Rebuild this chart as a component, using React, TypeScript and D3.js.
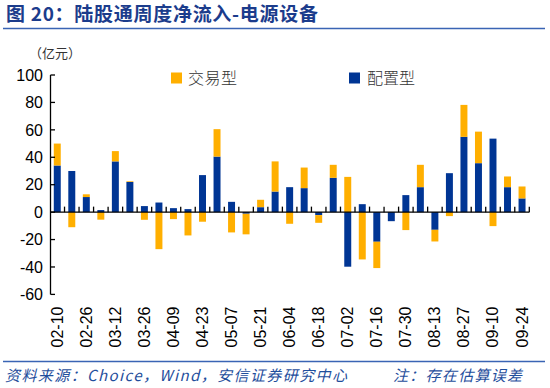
import React from "react";
import * as d3 from "d3";

const dates = [
  "02-10", "02-19", "02-26", "03-05", "03-12", "03-19", "03-26", "04-02", "04-09", "04-16",
  "04-23", "04-30", "05-07", "05-14", "05-21", "05-28", "06-04", "06-11", "06-18", "06-25",
  "07-02", "07-09", "07-16", "07-23", "07-30", "08-06", "08-13", "08-20", "08-27", "09-03",
  "09-10", "09-17", "09-24",
];
const allocation = [
  34, 30, 11, 1.5, 37, 22, 4.4, 7, 2.9, 2.2, 27, 40.5, 7.5, -1.2, 3.6, 15, 18.2, 17.5, -2.2, 25,
  -39.8, 5.8, -21.6, -6.6, 12.4, 18.2, -12.9, 28.4, 54.9, 35.7, 53.6, 18.2, 10,
];
const trading = [
  16, -11, 2, -5.5, 7.5, 0.5, -5.6, -27, -5.1, -17, -7, 20, -14.8, -15, 5.4, 22, -8.5, 15, -5.6, 9.5,
  25.7, -34.5, -19.2, 0, -13.1, 16.3, -8.5, -2.9, 23.3, 23, -10.2, 7.8, 8.7,
];
const yTicks = [100, 80, 60, 40, 20, 0, -20, -40, -60];
const seriesNames = ["交易型", "配置型"];

const BLUE = "#003594";
const ORANGE = "#FFAF00";

export default function App() {
  const x = d3.scaleBand<string>().domain(dates).range([50, 529.3]).paddingInner(0.52).paddingOuter(0.26);
  const y = d3.scaleLinear().domain([-60, 100]).range([294.4, 75]);
  const rows = dates.map((d, i) => ({ date: d, alloc: allocation[i], trade: trading[i] }));
  const stack = d3.stack<any>().keys(["alloc", "trade"]).offset(d3.stackOffsetDiverging);
  const layers = stack(rows);
  const colors: Record<string, string> = { alloc: BLUE, trade: ORANGE };
  const axisX = 50.5;
  const y0 = y(0);
  const step = x.step();
  const bandStart = x.range()[0];

  return (
    <svg width={550} height={388} style={{ position: "absolute", left: 0, top: 0, background: "#fff" }}
      fontFamily="'Liberation Sans', Arial, sans-serif">
      <text x={6} y={21} fontSize={19} fontWeight="bold" fill="#1B3C8C" textLength={312}
        fontFamily="'Noto Sans CJK SC', 'Liberation Sans', sans-serif">图 20：陆股通周度净流入-电源设备</text>
      <line x1={3} x2={545} y1={28.5} y2={28.5} stroke="#3A64B4" strokeWidth={1.5} />

      <text x={29} y={58} fontSize={13} fill="#333"
        fontFamily="'Noto Sans CJK SC', sans-serif">（亿元）</text>

      {layers.map((layer) =>
        layer.map((seg, i) => {
          const top = y(Math.max(seg[0], seg[1]));
          const bot = y(Math.min(seg[0], seg[1]));
          if (bot - top <= 0) return null;
          return (
            <rect key={layer.key + i} x={x(dates[i])} y={top} width={x.bandwidth()} height={bot - top}
              fill={colors[layer.key]} />
          );
        })
      )}

      {/* y axis */}
      <line x1={axisX} x2={axisX} y1={y(100)} y2={y(-60)} stroke="#000" strokeWidth={1.3} />
      {yTicks.map((t) => (
        <g key={t}>
          <line x1={axisX} x2={axisX + 4.5} y1={y(t)} y2={y(t)} stroke="#000" strokeWidth={1.3} />
          <text x={43} y={y(t)} dy="0.36em" textAnchor="end" fontSize={16} fill="#000">{t}</text>
        </g>
      ))}

      {/* x axis at zero */}
      <line x1={axisX} x2={529.3} y1={y0} y2={y0} stroke="#000" strokeWidth={1.3} />
      {d3.range(1, dates.length + 1).map((k) => (
        <line key={k} x1={bandStart + k * step} x2={bandStart + k * step} y1={y0} y2={y0 - 5.5}
          stroke="#000" strokeWidth={1.3} />
      ))}
      {dates.map((d, i) =>
        i % 2 === 0 ? (
          <text key={d} transform={`translate(${x(d)! + x.bandwidth() / 2 + 5.5},306.5) rotate(-90)`}
            textAnchor="end" fontSize={16} fill="#000">{d}</text>
        ) : null
      )}

      {/* legend */}
      <rect x={171} y={72.5} width={11} height={11} fill={ORANGE} />
      <text x={188} y={84} fontSize={16} fill="#333" textLength={49}
        fontFamily="'Noto Sans CJK SC', sans-serif" fontWeight={300}>{seriesNames[0]}</text>
      <rect x={349} y={72.5} width={11} height={11} fill={BLUE} />
      <text x={367} y={84} fontSize={16} fill="#333" textLength={48}
        fontFamily="'Noto Sans CJK SC', sans-serif" fontWeight={300}>{seriesNames[1]}</text>

      {/* footer */}
      <line x1={3} x2={545} y1={361.5} y2={361.5} stroke="#3A64B4" strokeWidth={1.5} />
      <text x={5} y={381} fontSize={15} fill="#1F4E9C" fontStyle="italic" textLength={342}
        fontFamily="'Noto Sans CJK SC', 'Liberation Sans', sans-serif">资料来源：Choice，Wind，安信证券研究中心</text>
      <text x={393} y={381} fontSize={15} fill="#1F4E9C" fontStyle="italic" textLength={129}
        fontFamily="'Noto Sans CJK SC', sans-serif">注：存在估算误差</text>
    </svg>
  );
}
